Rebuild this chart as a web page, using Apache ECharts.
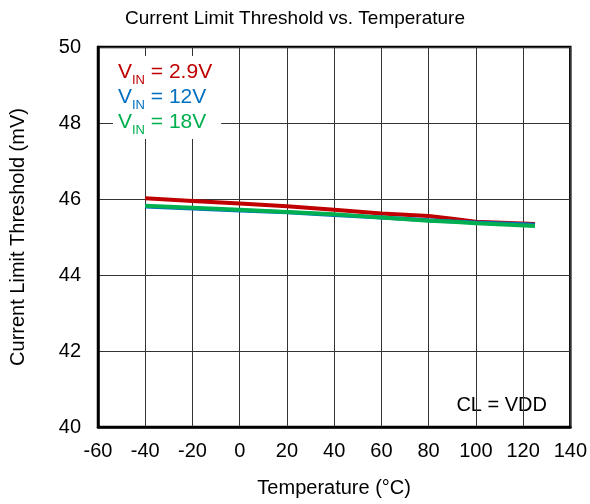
<!DOCTYPE html>
<html>
<head>
<meta charset="utf-8">
<script src="https://cdn.jsdelivr.net/npm/echarts@6/dist/echarts.min.js"></script>
<style>html,body{margin:0;padding:0;background:#fff;}#c{width:590px;height:504px;}</style>
</head>
<body>
<div id="c"></div>
<script>
const temps = [-40, -20, 0, 20, 40, 60, 80, 90, 100, 125];
const vin29 = [46.02, 45.95, 45.88, 45.81, 45.72, 45.62, 45.55, 45.48, 45.40, 45.34];
const vin12 = [45.80, 45.75, 45.70, 45.65, 45.58, 45.51, 45.44, 45.41, 45.38, 45.32];
const vin18 = [45.82, 45.77, 45.72, 45.66, 45.60, 45.51, 45.43, 45.40, 45.36, 45.29];
const seriesNames = ['2.9V', '12V', '18V'];
const seriesColors = ['#C00000', '#0070C0', '#00B050'];
const xTicks = {min: -60, max: 140, interval: 20};
const yTicks = {min: 40, max: 50, interval: 2};

const font = 'Arial, "Liberation Sans", sans-serif';
const chart = echarts.init(document.getElementById('c'));
const sets = [vin29, vin12, vin18];
chart.setOption({
  animation: false,
  backgroundColor: '#fff',
  title: {
    text: 'Current Limit Threshold vs. Temperature',
    left: 'center', top: 4,
    textStyle: {fontFamily: font, fontSize: 19, fontWeight: 'normal', color: '#000'}
  },
  grid: {left: 97, right: 18, top: 47, bottom: 77, show: true, borderColor: '#000', borderWidth: 2.5, backgroundColor: 'transparent'},
  xAxis: {
    type: 'value', min: xTicks.min, max: xTicks.max, interval: xTicks.interval,
    name: 'Temperature (°C)', nameLocation: 'middle', nameGap: 51,
    nameTextStyle: {fontFamily: font, fontSize: 20, color: '#000'},
    axisLine: {show: true, onZero: false, lineStyle: {color: '#000', width: 2.5}},
    axisTick: {show: false},
    axisLabel: {fontFamily: font, fontSize: 20, color: '#000', margin: 14},
    splitLine: {show: true, lineStyle: {color: '#333', width: 1}}
  },
  yAxis: {
    type: 'value', min: yTicks.min, max: yTicks.max, interval: yTicks.interval,
    name: 'Current Limit Threshold (mV)', nameLocation: 'middle', nameGap: 70,
    nameTextStyle: {fontFamily: font, fontSize: 20, color: '#000'},
    axisLine: {show: true, onZero: false, lineStyle: {color: '#000', width: 2.5}},
    axisTick: {show: false},
    axisLabel: {fontFamily: font, fontSize: 20, color: '#000', margin: 17},
    splitLine: {show: true, lineStyle: {color: '#333', width: 1}}
  },
  legend: {
    orient: 'vertical', left: 113, top: 56,
    itemWidth: 0, itemHeight: 0, itemGap: 0,
    icon: 'none',
    backgroundColor: '#fff', padding: [6, 9, 2, 0],
    selectedMode: false,
    data: seriesNames.map((n, i) => ({name: n, textStyle: {color: seriesColors[i]}})),
    formatter: n => '{v|V}{s|IN}{t| = ' + n + '}',
    textStyle: {
      fontFamily: font, fontSize: 21,
      rich: {
        v: {fontFamily: font, fontSize: 21, lineHeight: 20, verticalAlign: 'top'},
        s: {fontFamily: font, fontSize: 13, lineHeight: 25, verticalAlign: 'bottom'},
        t: {fontFamily: font, fontSize: 21, lineHeight: 20, verticalAlign: 'top'}
      }
    }
  },
  graphic: [{
    type: 'text', right: 43, top: 395,
    style: {text: 'CL = VDD', font: '20px ' + font, fill: '#000'}
  }],
  series: sets.map((d, i) => ({
    name: seriesNames[i], type: 'line', showSymbol: false, symbol: 'none',
    data: temps.map((t, j) => [t, d[j]]),
    lineStyle: {color: seriesColors[i], width: 4},
    itemStyle: {color: seriesColors[i]},
    z: 2 + i
  }))
});
</script>
</body>
</html>
